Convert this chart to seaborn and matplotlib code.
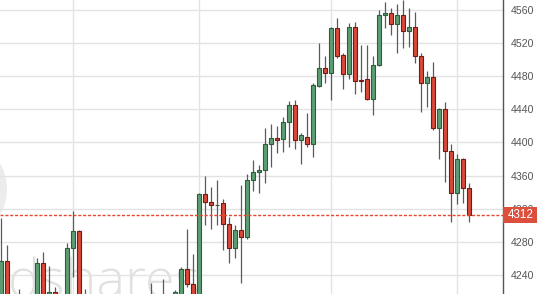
import numpy as np
import pandas as pd
import matplotlib
matplotlib.use("Agg")
import matplotlib.pyplot as plt
import matplotlib.transforms as mtransforms
from matplotlib.patches import Rectangle, Circle
import seaborn as sns

# ---- data (values below ~4217 are hidden in the reference) ----
opens = [4200, 4257, 4195, 4212, 4198, 4190, 4205, 4254, 4214, 4219,
         4214, 4210, 4273, 4293, 4205, 4212, 4195, 4180, 4188, 4175,
         4168, 4178, 4185, 4180, 4192, 4198, 4205, 4195, 4210, 4215,
         4214, 4247, 4229, 4210, 4338, 4328, 4324, 4327, 4302, 4273,
         4294, 4286, 4355, 4364, 4367, 4398, 4405, 4404, 4425, 4445,
         4403, 4406.6, 4398, 4468, 4490, 4484, 4538, 4506, 4483, 4539.5,
         4474.5, 4477, 4452.5, 4493, 4554, 4556.4, 4543, 4554, 4535, 4539.5,
         4504, 4472, 4479, 4417.5, 4440, 4390, 4339, 4380, 4345]
highs = [4309, 4276, 4212, 4223, 4210, 4214, 4260, 4268, 4251, 4225,
         4216, 4279, 4317, 4294, 4223, 4215, 4200, 4195, 4192, 4182,
         4185, 4195, 4192, 4200, 4208, 4230, 4212, 4235, 4215, 4222,
         4250, 4296, 4265, 4339, 4359, 4346, 4355, 4332, 4310, 4300,
         4349, 4362, 4379, 4373, 4417.5, 4422, 4420, 4431, 4450, 4451,
         4411.5, 4436, 4472, 4520, 4504, 4540, 4550, 4508, 4544, 4545.5,
         4518, 4518, 4504, 4560, 4570, 4562, 4567, 4572, 4562, 4557.6,
         4508, 4486, 4497, 4442, 4449, 4398, 4386, 4381, 4351]
lows = [4190, 4195, 4185, 4190, 4180, 4182, 4198, 4205, 4205, 4205,
        4198, 4205, 4238, 4195, 4195, 4185, 4170, 4172, 4165, 4160,
        4162, 4170, 4172, 4175, 4185, 4190, 4188, 4190, 4198, 4208,
        4208, 4225, 4205, 4205, 4300, 4295.5, 4300, 4270, 4254, 4261,
        4230, 4283, 4341, 4339, 4351, 4370, 4387, 4388.5, 4394.5, 4392,
        4374, 4394.5, 4382.5, 4467, 4472, 4451, 4502, 4465, 4477, 4459,
        4461, 4451, 4433, 4492, 4538, 4530, 4508, 4514, 4515, 4496,
        4437, 4443, 4415, 4380, 4352, 4304, 4326, 4327, 4304]
closes = [4257, 4205, 4205, 4198, 4192, 4205, 4254, 4215, 4219, 4216,
          4208, 4273, 4293, 4205, 4212, 4195, 4180, 4188, 4175, 4168,
          4178, 4185, 4180, 4192, 4198, 4205, 4195, 4210, 4205, 4219,
          4247, 4229, 4212, 4338, 4328, 4324.5, 4325, 4302, 4273, 4294,
          4286, 4355, 4364, 4367, 4398, 4405, 4403, 4425, 4445, 4403,
          4409, 4398, 4469, 4490, 4484, 4538, 4504, 4483, 4539.5, 4474,
          4474, 4452.5, 4494, 4554, 4556.4, 4543, 4554, 4535, 4539.5, 4504,
          4472, 4479, 4417.5, 4440, 4390, 4339, 4380, 4345, 4312]
y_ticks = [4240, 4280, 4320, 4360, 4400, 4440, 4480, 4520, 4560]
month_grid_idx = [12, 33, 55, 76]
watermark_text = "dshares"

df = pd.DataFrame({"open": opens, "high": highs, "low": lows, "close": closes})
df["idx"] = np.arange(len(df))
df["up"] = df["close"] >= df["open"]
df["bottom"] = df[["open", "close"]].min(axis=1)
df["height"] = (df["close"] - df["open"]).abs().clip(lower=0.9)

sns.set_theme(style="white")
plt.rcParams["font.family"] = ["Liberation Sans", "DejaVu Sans"]

UP_FILL, UP_EDGE = "#5c9e72", "#2f5d3b"
DN_FILL, DN_EDGE = "#d9493a", "#6e1d14"
WICK = "#5a5a5a"
PRICE_RED = "#e8452f"

fig = plt.figure(figsize=(5.37, 2.94), dpi=100)
ax = fig.add_axes([0, 0, 503 / 537, 1])
ax.set_facecolor("white")

# watermark
wm = Circle((-45, 105), 52, transform=None, facecolor="#ececec", edgecolor="none", zorder=0)
ax.add_artist(wm)
ax.text(0.016, -0.012, watermark_text, transform=ax.transAxes, fontsize=39,
        family=["Open Sans", "DejaVu Sans"], fontweight="light",
        color="#e1e1e1", ha="left", va="baseline", zorder=0.5)

# grid
for yv in y_ticks:
    ax.axhline(yv, color="#e3e3e3", lw=1, zorder=1)
for gi in month_grid_idx:
    ax.axvline(gi, color="#e3e3e3", lw=1, zorder=1)

# wicks
ax.vlines(df["idx"], df["low"], df["high"], color=WICK, lw=0.9, zorder=2)

# bodies
up = df[df["up"]]
dn = df[~df["up"]]
ax.bar(up["idx"], up["height"], bottom=up["bottom"], width=0.68,
       color=UP_FILL, edgecolor=UP_EDGE, linewidth=0.8, zorder=3)
ax.bar(dn["idx"], dn["height"], bottom=dn["bottom"], width=0.68,
       color=DN_FILL, edgecolor=DN_EDGE, linewidth=0.8, zorder=3)

last = closes[-1]
ax.axhline(last, color=PRICE_RED, lw=1, linestyle=(0, (2.2, 1.3)), zorder=4)

ax.set_xlim(-1 / 6, 502 / 6)
ax.set_ylim(4217.0, 4572.1)

ax.yaxis.tick_right()
ax.set_yticks(y_ticks)
ax.set_yticklabels([str(t) for t in y_ticks])
ax.tick_params(axis="y", length=0, pad=5.5, labelsize=7.6, labelcolor="#555555")
ax.set_xticks([])
for s in ["left", "top", "bottom"]:
    ax.spines[s].set_visible(False)
ax.spines["right"].set_visible(True)
ax.spines["right"].set_color("#555555")
ax.spines["right"].set_linewidth(1)

# current price label box
blend = mtransforms.blended_transform_factory(fig.transFigure, ax.transData)
half_h = 9.6
fig.patches.append(Rectangle((503 / 537, last - half_h), 34 / 537, 2 * half_h,
                             transform=blend, facecolor="#dc4f3d", edgecolor="none",
                             zorder=5, figure=fig))
fig.text(520.5 / 537, last, str(int(last)), transform=blend, color="white",
         fontsize=8.4, ha="center", va="center", zorder=6)

fig.savefig("out.png", dpi=100)
